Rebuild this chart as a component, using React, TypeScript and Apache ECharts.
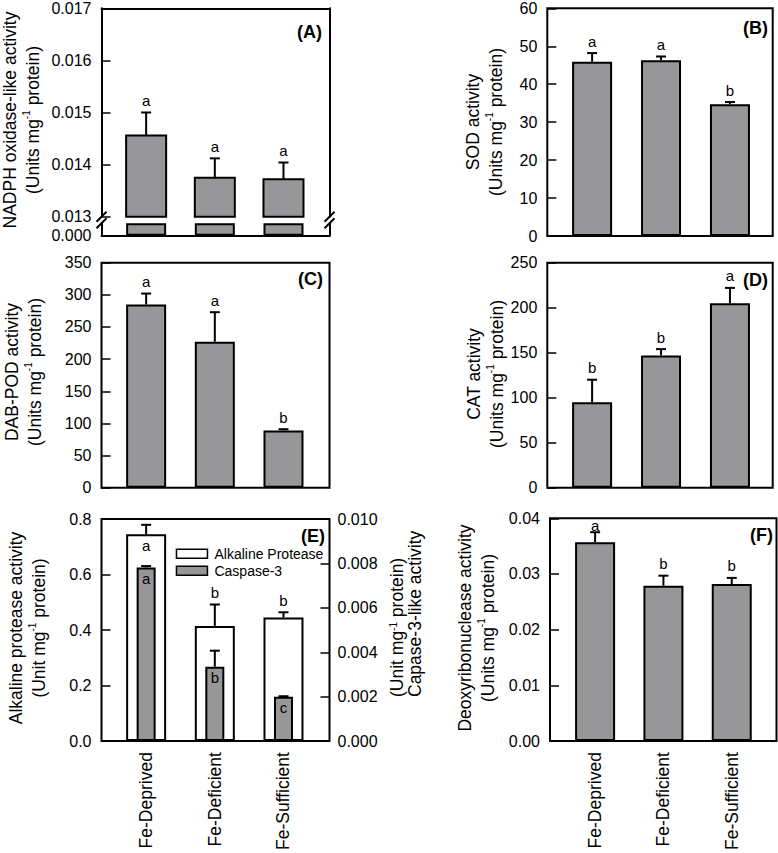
import { useEffect, useRef } from 'react';
import * as echarts from 'echarts';

// ---------- data ----------
const CATEGORIES = ['Fe-Deprived', 'Fe-Deficient', 'Fe-Sufficient'];

const NADPH = [0.01456, 0.01375, 0.01372];
const NADPH_ERR = [0.00044, 0.00037, 0.00032];
const NADPH_LETTERS = ['a', 'a', 'a'];
const NADPH_BREAK = 0.013;

const SOD = [45.9, 46.3, 34.7];
const SOD_ERR = [2.3, 1.0, 0.6];
const SOD_LETTERS = ['a', 'a', 'b'];

const POD = [285, 227, 89];
const POD_ERR = [17, 46, 2];
const POD_LETTERS = ['a', 'a', 'b'];

const CAT = [95, 147, 205];
const CAT_ERR = [25, 7, 17];
const CAT_LETTERS = ['b', 'b', 'a'];

const PROTEASE = [0.745, 0.415, 0.445];
const PROTEASE_ERR = [0.034, 0.077, 0.019];
const PROTEASE_LETTERS = ['a', 'b', 'b'];
const PROTEASE_LETTER_PLACE = ['inside', 'above', 'above'];

const CASPASE = [0.00782, 0.00335, 0.002];
const CASPASE_ERR = [0.00006, 0.00072, 0.00002];
const CASPASE_LETTERS = ['a', 'b', 'c'];
const CASPASE_LETTER_PLACE = ['inside', 'inside', 'inside'];

const DNASE = [0.0357, 0.0279, 0.0282];
const DNASE_ERR = [0.0018, 0.0018, 0.0011];
const DNASE_LETTERS = ['a', 'b', 'b'];

// ---------- style ----------
const FONT = "'Liberation Sans', Arial, Helvetica, sans-serif";
const GRAY = '#97979a';
const LEFT_X = [0.35, 3.67];
const RIGHT_X = [0.35, 3.62];
const F_X = [0.34, 3.655];
const TICK_FONT = 16;

const pts = (vals: number[]) => vals.map((v, i) => [i + 1, v]);

const barItem = (color: string) => ({ color, borderColor: '#000', borderWidth: 2 });

function bar(xi: number, yi: number, vals: number[], color = GRAY, extra: any = {}) {
  return {
    type: 'bar', xAxisIndex: xi, yAxisIndex: yi, data: pts(vals), barWidth: 40,
    itemStyle: barItem(color), clip: false, z: 2, ...extra,
  };
}

// bars drawn from the (broken) axis floor up to their value
function brokenBars(xi: number, yi: number, vals: number[], floor: number) {
  return {
    type: 'custom', xAxisIndex: xi, yAxisIndex: yi, z: 2, clip: false,
    data: pts(vals),
    renderItem: (_params: any, api: any) => {
      const x = api.value(0), v = api.value(1);
      const p0 = api.coord([x, floor]);
      const p1 = api.coord([x, v]);
      return {
        type: 'rect',
        shape: { x: p0[0] - 20, y: p1[1], width: 40, height: p0[1] - p1[1] },
        style: { fill: GRAY, stroke: '#000', lineWidth: 2 },
      };
    },
  };
}

function errBars(xi: number, yi: number, vals: number[], errs: number[], letters: string[], places?: string[]) {
  return {
    type: 'custom', xAxisIndex: xi, yAxisIndex: yi, z: 5, clip: false,
    data: vals.map((v, i) => [i + 1, v, errs[i], i]),
    renderItem: (params: any, api: any) => {
      const x = api.value(0), v = api.value(1), e = api.value(2), i = api.value(3);
      const base = api.coord([x, v]);
      const top = api.coord([x, v + e]);
      const place = places ? places[i] : 'above';
      let ly = place === 'inside' ? base[1] + 11 : top[1] - 12;
      const cs = params.coordSys;
      if (place !== 'inside') ly = Math.max(ly, cs.y + 7);
      return {
        type: 'group',
        children: [
          { type: 'line', shape: { x1: base[0], y1: base[1], x2: top[0], y2: top[1] }, style: { stroke: '#000', lineWidth: 2 } },
          { type: 'line', shape: { x1: top[0] - 5, y1: top[1], x2: top[0] + 5, y2: top[1] }, style: { stroke: '#000', lineWidth: 2 } },
          { type: 'text', x: base[0], y: ly, style: { text: letters[i], fontSize: 15, fontFamily: FONT, fill: '#000', align: 'center', verticalAlign: 'middle' } },
        ],
      };
    },
  };
}

const catLabel = {
  show: true, customValues: [1, 2, 3], formatter: (v: number) => CATEGORIES[Math.round(v) - 1],
  rotate: 90, fontSize: 17.5, color: '#000', margin: 11, fontFamily: FONT,
};

function xAx(gridIndex: number, range: number[], extra: any = {}) {
  return {
    type: 'value', gridIndex, min: range[0], max: range[1],
    axisLine: { show: false }, axisTick: { show: false }, splitLine: { show: false },
    axisLabel: { show: false }, ...extra,
  };
}

const tick = { show: true, inside: true, length: 9, lineStyle: { color: '#000', width: 1.5 } };
const line2 = { show: true, onZero: false, lineStyle: { color: '#000', width: 2 } };

function yAx(gridIndex: number, min: number, max: number, interval: number, digits: number, extra: any = {}) {
  return {
    type: 'value', gridIndex, min, max, interval,
    axisLine: { show: false }, axisTick: tick, splitLine: { show: false },
    axisLabel: { fontSize: TICK_FONT, color: '#000', margin: 10, fontFamily: FONT, formatter: (v: number) => v.toFixed(digits) },
    ...extra,
  };
}

const framed = { show: true, borderColor: '#000', borderWidth: 2, backgroundColor: 'transparent' };

const grids = [
  { left: 101.5, top: 8.3, width: 228, height: 208.4 }, // A upper
  { left: 101.5, top: 223.3, width: 228, height: 12.4 }, // A lower
  { left: 547.3, top: 8.3, width: 225.4, height: 227.7, ...framed }, // B
  { left: 101.5, top: 262.7, width: 228, height: 225, ...framed }, // C
  { left: 547.3, top: 262.7, width: 225.4, height: 225, ...framed }, // D
  { left: 101.5, top: 519, width: 228, height: 226.5, ...framed }, // E
  { left: 550, top: 518.3, width: 226.5, height: 227.2, ...framed }, // F
];

const xAxes = [
  xAx(0, LEFT_X, { position: 'top', axisLine: line2 }),
  xAx(1, LEFT_X, { position: 'bottom', axisLine: line2 }),
  xAx(2, RIGHT_X),
  xAx(3, LEFT_X),
  xAx(4, RIGHT_X),
  xAx(5, LEFT_X, { axisLabel: catLabel }),
  xAx(5, LEFT_X),
  xAx(6, F_X, { axisLabel: catLabel }),
];

const yAxes = [
  yAx(0, 0.013, 0.017, 0.001, 3, { axisLine: line2 }), // 0 A upper left
  yAx(0, 0.013, 0.017, 0.001, 3, { position: 'right', axisLine: line2, axisTick: { show: false }, axisLabel: { show: false } }), // 1
  yAx(1, 0, NADPH_BREAK, NADPH_BREAK, 3, {
    axisLine: line2, axisTick: { show: false },
    axisLabel: { fontSize: TICK_FONT, color: '#000', margin: 10, fontFamily: FONT, formatter: (v: number) => (v === 0 ? '0.000' : '') },
  }), // 2 A lower
  yAx(1, 0, NADPH_BREAK, NADPH_BREAK, 3, { position: 'right', axisLine: line2, axisTick: { show: false }, axisLabel: { show: false } }), // 3
  yAx(2, 0, 60, 10, 0), // 4 B
  yAx(3, 0, 350, 50, 0), // 5 C
  yAx(4, 0, 250, 50, 0), // 6 D
  yAx(5, 0, 0.8, 0.2, 1), // 7 E left
  yAx(5, 0, 0.01, 0.002, 3, { position: 'right', axisLabel: { fontSize: TICK_FONT, color: '#000', margin: 8, fontFamily: FONT, formatter: (v: number) => v.toFixed(3) } }), // 8 E right
  yAx(6, 0, 0.04, 0.01, 2), // 9 F
];

const series: any[] = [
  // A (broken axis)
  brokenBars(0, 0, NADPH, NADPH_BREAK),
  errBars(0, 0, NADPH, NADPH_ERR, NADPH_LETTERS),
  bar(1, 2, NADPH.map((v) => Math.min(v, NADPH_BREAK))),
  // B
  bar(2, 4, SOD),
  errBars(2, 4, SOD, SOD_ERR, SOD_LETTERS),
  // C
  bar(3, 5, POD),
  errBars(3, 5, POD, POD_ERR, POD_LETTERS),
  // D
  bar(4, 6, CAT),
  errBars(4, 6, CAT, CAT_ERR, CAT_LETTERS),
  // E
  bar(5, 7, PROTEASE, '#ffffff', { name: 'Alkaline Protease' }),
  bar(6, 8, CASPASE, GRAY, { name: 'Caspase-3', barWidth: 19, z: 3 }),
  errBars(5, 7, PROTEASE, PROTEASE_ERR, PROTEASE_LETTERS, PROTEASE_LETTER_PLACE),
  errBars(6, 8, CASPASE, CASPASE_ERR, CASPASE_LETTERS, CASPASE_LETTER_PLACE),
  // F
  bar(7, 9, DNASE),
  errBars(7, 9, DNASE, DNASE_ERR, DNASE_LETTERS),
];

const rich = { s: { fontSize: 10, lineHeight: 10, verticalAlign: 'top', fontFamily: FONT, fill: '#000' } };

function vTitle(x: number, y: number, text: string, lineHeight = 23, align = 'center') {
  return {
    type: 'text', x, y, rotation: Math.PI / 2, z: 10,
    style: { text, rich, fontSize: 17.5, lineHeight, fontFamily: FONT, fill: '#000', align, verticalAlign: 'middle' },
  };
}

function panelLabel(x: number, y: number, text: string) {
  return {
    type: 'text', x, y, z: 10,
    style: { text, fontSize: 18, fontWeight: 'bold', fontFamily: FONT, fill: '#000', align: 'right', verticalAlign: 'middle' },
  };
}

const breakMarks = [101.5, 329.5].flatMap((x) =>
  [216.7, 223.3].map((y) => ({
    type: 'line', z: 10, shape: { x1: x - 5, y1: y + 5, x2: x + 5, y2: y - 5 }, style: { stroke: '#000', lineWidth: 2 },
  }))
);

const graphic = [
  vTitle(21.5, 120, 'NADPH oxidase-like activity\n(Units mg{s|-1} protein)'),
  vTitle(484.5, 122, 'SOD activity\n(Units mg{s|-1} protein)'),
  vTitle(23, 372, 'DAB-POD activity\n(Units mg{s|-1} protein)'),
  vTitle(485, 374, 'CAT activity\n(Units mg{s|-1} protein)'),
  vTitle(27, 628, 'Alkaline protease activity\n(Unit mg{s|-1} protein)'),
  vTitle(406, 697, '(Unit mg{s|-1} protein)\nCapase-3-like activity', 18, 'left'),
  vTitle(476.5, 628, 'Deoxyribonuclease activity\n(Units mg{s|-1} protein)'),
  panelLabel(322, 32, '(A)'),
  panelLabel(768, 27.5, '(B)'),
  panelLabel(323, 279.3, '(C)'),
  panelLabel(768, 280, '(D)'),
  panelLabel(325, 535.7, '(E)'),
  panelLabel(773, 535, '(F)'),
  ...breakMarks,
];

const option: any = {
  animation: false,
  backgroundColor: '#ffffff',
  textStyle: { fontFamily: FONT, color: '#000' },
  grid: grids,
  xAxis: xAxes,
  yAxis: yAxes,
  series,
  graphic,
  legend: {
    data: ['Alkaline Protease', 'Caspase-3'],
    orient: 'vertical', left: 175.7, top: 546.8, padding: 0, itemGap: 3,
    itemWidth: 31, itemHeight: 9, icon: 'rect',
    itemStyle: { borderWidth: 1.5, borderColor: '#000' },
    textStyle: { fontSize: 14, color: '#000', fontFamily: FONT, padding: [0, 0, 0, 2] },
    selectedMode: false,
  },
};

export default function App() {
  const ref = useRef<HTMLDivElement>(null);
  useEffect(() => {
    document.body.style.margin = '0';
    const chart = echarts.init(ref.current!, null, { renderer: 'svg' });
    chart.setOption(option);
    return () => chart.dispose();
  }, []);
  return <div ref={ref} style={{ width: 778, height: 853 }} />;
}
